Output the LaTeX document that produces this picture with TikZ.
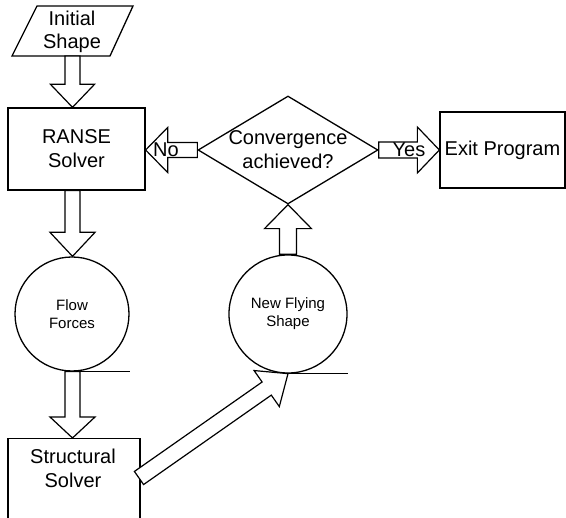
\documentclass[tikz,border=0pt]{standalone}
\usepackage{fontspec}
\setmainfont{Liberation Sans}
\usetikzlibrary{shapes.geometric,calc}
\tikzset{
  outl/.style={draw, line width=1.3pt},
  box/.style={outl, rectangle, inner sep=0pt},
  rnd/.style={outl, circle, inner sep=0pt, minimum size=#1},
  big/.style={font=\fontsize{20}{24}\selectfont, align=center, inner sep=0pt},
  small/.style={font=\fontsize{15}{18}\selectfont, align=center, inner sep=0pt},
  blk/.style={draw, line width=1.2pt, fill=white, line join=miter},
  stray/.style={draw, line width=1pt},
}
% #1 tail, #2 tip, #3 shaft half width, #4 head half width, #5 head length
\newcommand\blkarrow[5]{%
  \coordinate (ba-h) at ($(#2)!#5!(#1)$);
  \draw[blk] ($(#1)!#3!90:(#2)$) -- ($(ba-h)!#3!90:(#2)$) -- ($(ba-h)!#4!90:(#2)$)
    -- (#2) -- ($(ba-h)!#4!-90:(#2)$) -- ($(ba-h)!#3!-90:(#2)$)
    -- ($(#1)!#3!-90:(#2)$) -- cycle;
}
\begin{document}
\begin{tikzpicture}[x=1pt,y=-1pt]
\useasboundingbox (0,0) rectangle (566,518);
% Initial shape (parallelogram)
\coordinate (p1) at (12,56);
\coordinate (p2) at (37,6);
\coordinate (p3) at (133,6);
\coordinate (p4) at (110,56);
\draw[outl] (p1) -- (p2) -- (p3) -- (p4) -- cycle;
\node[big, font=\fontsize{20}{23}\selectfont] (init) at (72,32) {Initial\\Shape};
% RANSE solver
\node[box, minimum width=137pt, minimum height=82pt, big] (ranse) at (76.5,149) {RANSE\\Solver};
% Flow forces
\node[rnd=114pt, small] (flow) at (72,314) {Flow\\Forces};
% Structural solver (box runs past the bottom edge)
\node[box, minimum width=132pt, minimum height=90pt, anchor=north] (struct) at (74,438) {};
\node[big] (structtxt) at (73,468) {Structural\\Solver};
% New flying shape
\node[rnd=118pt, small] (newfly) at (288,314) {New Flying\\Shape};
% Convergence diamond
\node[diamond, outl, minimum width=180pt, minimum height=108pt, inner sep=0pt] (dia) at (288,150) {};
\node[big] (conv) at (288,150) {Convergence\\achieved?};
% Exit
\node[box, minimum width=125pt, minimum height=76pt, big] (exit) at (502.5,150) {Exit Program};
% stray lines under circles
\coordinate (fl1) at ($(flow.south)+(8,0)$);
\coordinate (fl2) at ($(flow.south)+(58,0)$);
\draw[stray] (fl1) -- (fl2);
\coordinate (nf2) at ($(newfly.south)+(60,0)$);
\draw[stray] (newfly.south) -- (nf2);
% block arrows
\coordinate (a1t) at (72.5,56);
\coordinate (a1h) at (ranse.north -| a1t);
\blkarrow{a1t}{a1h}{7.5pt}{22pt}{23pt}
\coordinate (a2t) at (ranse.south -| a1t);
\coordinate (a2h) at (flow.north -| a1t);
\blkarrow{a2t}{a2h}{7.5pt}{22.5pt}{24pt}
\coordinate (a3t) at (flow.south -| a1t);
\coordinate (a3h) at (struct.north -| a1t);
\blkarrow{a3t}{a3h}{7.5pt}{22.5pt}{21pt}
\coordinate (a4t) at (139,478);
\coordinate (a4h) at (newfly.south);
\blkarrow{a4t}{a4h}{8pt}{22pt}{26pt}
\coordinate (a5t) at (newfly.north);
\coordinate (a5h) at (dia.south);
\blkarrow{a5t}{a5h}{8.5pt}{23.5pt}{24pt}
\coordinate (a6t) at (dia.west);
\coordinate (a6h) at (ranse.east |- dia.west);
\blkarrow{a6t}{a6h}{7.5pt}{22.5pt}{22pt}
\coordinate (a7t) at (dia.east);
\coordinate (a7h) at (exit.west);
\blkarrow{a7t}{a7h}{8pt}{23pt}{22pt}
% arrow labels
\node[big] (no) at (166,150) {No};
\node[big] (yes) at (409,150) {Yes};
\end{tikzpicture}
\end{document}
